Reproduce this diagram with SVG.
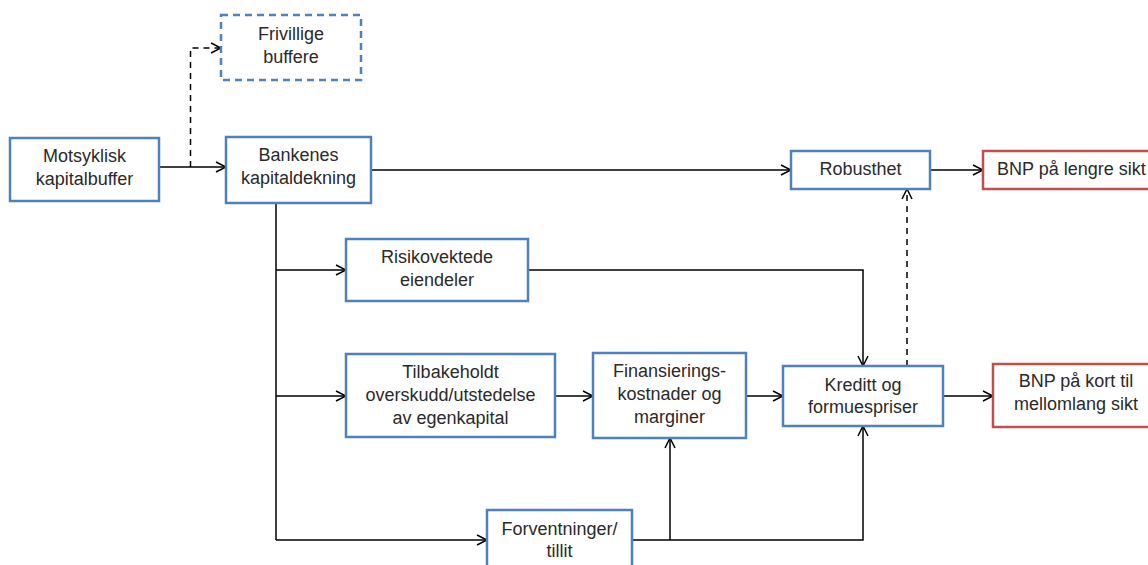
<svg xmlns="http://www.w3.org/2000/svg" width="1148" height="565" viewBox="0 0 1148 565">
<style>
.b{fill:#fff;stroke:#4f81bd;stroke-width:2.5}
.r{fill:#fff;stroke:#c0504d;stroke-width:2.5}
.d{stroke-dasharray:7,5}
text{font-family:"Liberation Sans",Arial,sans-serif;font-size:18px;fill:#2a2a2a;text-anchor:middle}
.c path{fill:none;stroke:#000;stroke-width:1.5}
.c .ds{stroke-dasharray:6,5}
</style>
<defs>
<marker id="a" viewBox="0 0 12 12" refX="11" refY="6" markerWidth="12" markerHeight="12" markerUnits="userSpaceOnUse" orient="auto">
<path d="M1,1 L11,6 L1,11" fill="none" stroke="#000" stroke-width="1.5"/>
</marker>
</defs>
<rect width="1148" height="565" fill="#fff"/>
<g class="c" id="connectors">
<path d="M159,167 H226" marker-end="url(#a)"/>
<path class="ds" d="M190.5,167 V48 H221" marker-end="url(#a)"/>
<path d="M371,170 H791" marker-end="url(#a)"/>
<path d="M930,170 H983" marker-end="url(#a)"/>
<path d="M276,203 V540"/>
<path d="M276,270 H346" marker-end="url(#a)"/>
<path d="M276,396 H346" marker-end="url(#a)"/>
<path d="M276,540 H487" marker-end="url(#a)"/>
<path d="M555,396 H593" marker-end="url(#a)"/>
<path d="M746,396 H783" marker-end="url(#a)"/>
<path d="M943,396 H993" marker-end="url(#a)"/>
<path d="M528,270 H863 V366" marker-end="url(#a)"/>
<path class="ds" d="M907,366 V189" marker-end="url(#a)"/>
<path d="M632,540 H863 V426" marker-end="url(#a)"/>
<path d="M670,540 V438" marker-end="url(#a)"/>
</g>
<g id="motsyklisk"><rect class="b" x="10" y="138" width="149" height="63"/><text x="84.5" y="162">Motsyklisk</text><text x="84.5" y="185">kapitalbuffer</text></g>
<g id="frivillige"><rect class="b d" x="221" y="15" width="140" height="65"/><text x="291" y="39.5">Frivillige</text><text x="291" y="62.5">buffere</text></g>
<g id="bankenes"><rect class="b" x="226" y="137" width="145" height="66"/><text x="298.5" y="161">Bankenes</text><text x="298.5" y="184">kapitaldekning</text></g>
<g id="robusthet"><rect class="b" x="791" y="151" width="139" height="38"/><text x="860.5" y="175">Robusthet</text></g>
<g id="bnp-lengre"><rect class="r" x="983" y="151" width="180" height="38"/><text x="997" y="175" style="text-anchor:start">BNP på lengre sikt</text></g>
<g id="risiko"><rect class="b" x="346" y="239" width="182" height="62"/><text x="437" y="263">Risikovektede</text><text x="437" y="285.5">eiendeler</text></g>
<g id="tilbakeholdt"><rect class="b" x="346" y="354" width="209" height="83"/><text x="450.5" y="378">Tilbakeholdt</text><text x="450.5" y="400.5">overskudd/utstedelse</text><text x="450.5" y="423.5">av egenkapital</text></g>
<g id="finansiering"><rect class="b" x="593" y="353" width="153" height="85"/><text x="669.5" y="377">Finansierings-</text><text x="669.5" y="400">kostnader og</text><text x="669.5" y="423">marginer</text></g>
<g id="kreditt"><rect class="b" x="783" y="366" width="160" height="60"/><text x="863" y="390.5">Kreditt og</text><text x="863" y="412.5">formuespriser</text></g>
<g id="bnp-kort"><rect class="r" x="993" y="364" width="170" height="63"/><text x="1076" y="387">BNP på kort til</text><text x="1076" y="410">mellomlang sikt</text></g>
<g id="forventninger"><rect class="b" x="487" y="510" width="145" height="70"/><text x="559.5" y="535">Forventninger/</text><text x="559.5" y="557">tillit</text></g>
</svg>
